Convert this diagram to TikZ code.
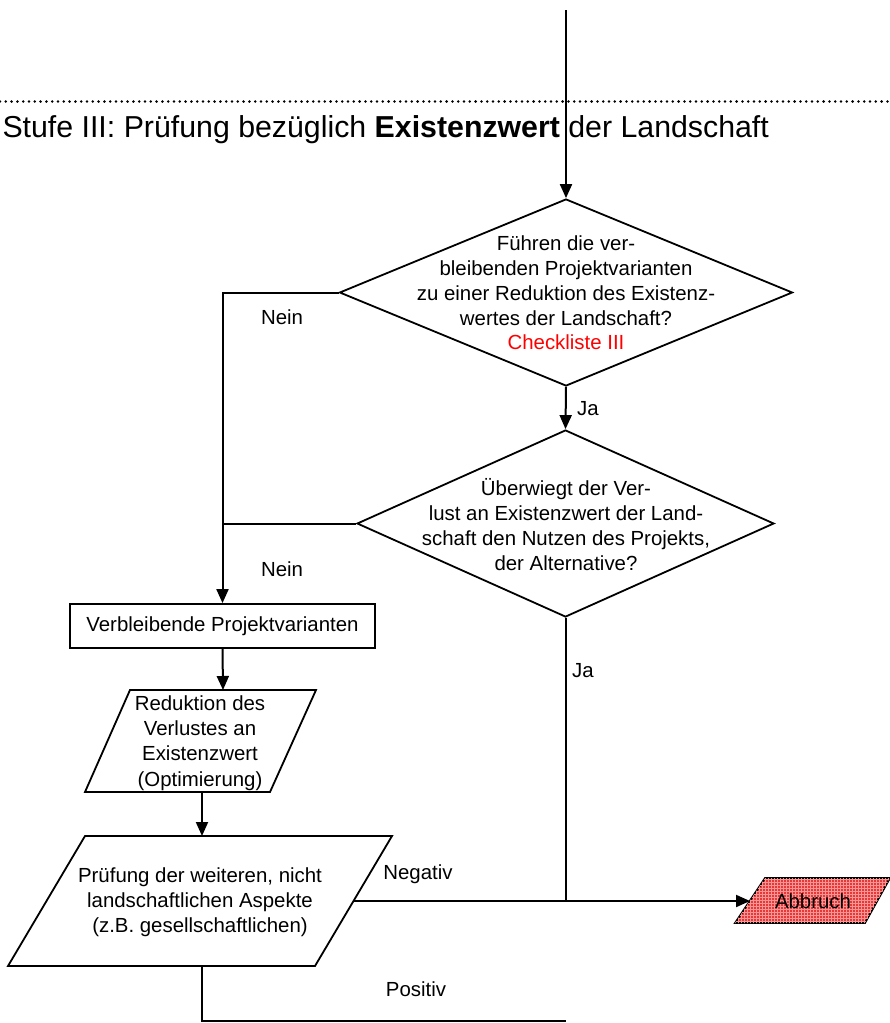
\documentclass[tikz,border=0pt]{standalone}
\usepackage{fontspec}
\setmainfont{Liberation Sans}
\usetikzlibrary{shapes.geometric,arrows.meta,patterns}
\begin{document}
\begin{tikzpicture}[x=1pt,y=-1pt,
  line width=2pt,
  arr/.style={-{Triangle[length=14pt,width=12pt]}},
  dec/.style={diamond, draw, inner sep=0pt, line width=1.8pt},
  shp/.style={draw, line width=1.8pt},
  txt/.style={align=center, font=\fontsize{20.4}{24.8}\selectfont, inner sep=0pt},
  lbl/.style={font=\fontsize{20.4}{24.8}\selectfont, inner sep=0pt, anchor=base},
  dots/.style={line width=2.8pt, line cap=round, dash pattern=on 0pt off 5.8pt},
  stop/.style={draw, line width=1.8pt, fill={rgb,255:red,232;green,55;blue,55},
    postaction={pattern=grid, pattern color={rgb,255:red,248;green,150;blue,150}}},
]
\useasboundingbox (0,0) rectangle (890,1023);

% dotted separator and title
\coordinate (sepl) at (0,101.5);
\coordinate (sepr) at (890,101.5);
\draw[dots] (sepl) -- (sepr);
\node[anchor=base west, inner sep=0pt, font=\fontsize{30.3}{36}\selectfont] (title) at (1.5,137)
  {Stufe III: Prüfung bezüglich \textbf{Existenzwert} der Landschaft};

% decisions
\node[dec, minimum width=453pt, minimum height=187pt] (d1) at (566,292.5) {};
\node[txt] (t1) at (566,293) {Führen die ver-\\bleibenden Projektvarianten\\zu einer Reduktion des Existenz-\\wertes der Landschaft?\\\textcolor{red}{Checkliste III}};
\node[dec, minimum width=417pt, minimum height=187pt] (d2) at (565.5,523.5) {};
\node[txt] (t2) at (566,524.5) {Überwiegt der Ver-\\lust an Existenzwert der Land-\\schaft den Nutzen des Projekts,\\der Alternative?};

% box
\node[shp, txt, minimum width=305pt, minimum height=44pt] (box) at (222.5,626) {Verbleibende Projektvarianten};

% parallelogram 1
\coordinate (p1a) at (130,690);
\coordinate (p1b) at (316,690);
\coordinate (p1c) at (270,792);
\coordinate (p1d) at (85,792);
\draw[shp] (p1a) -- (p1b) -- (p1c) -- (p1d) -- cycle;
\node[txt, font=\fontsize{20.4}{25.2}\selectfont] (t3) at (200,743) {Reduktion des\\Verlustes an\\Existenzwert\\(Optimierung)};
\coordinate (p1top) at (223,690);
\coordinate (p1out) at (202,792);

% parallelogram 2
\coordinate (p2a) at (85,836);
\coordinate (p2b) at (392,836);
\coordinate (p2c) at (315,966);
\coordinate (p2d) at (8,966);
\draw[shp] (p2a) -- (p2b) -- (p2c) -- (p2d) -- cycle;
\node[txt, font=\fontsize{20.4}{25}\selectfont] (t4) at (200,902.5) {Prüfung der weiteren, nicht\\landschaftlichen Aspekte\\(z.B. gesellschaftlichen)};
\coordinate (p2top) at (202,836);
\coordinate (p2right) at (353.5,901);
\coordinate (p2bot) at (202,966);
\coordinate (endb) at (566,1021);

% Abbruch
\coordinate (ab1) at (765,878);
\coordinate (ab2) at (890,878);
\coordinate (ab3) at (865,923);
\coordinate (ab4) at (735,923);
\path[stop] (ab1) -- (ab2) -- (ab3) -- (ab4) -- cycle;
\node[txt] (ab) at (813,901.5) {Abbruch};
\coordinate (abin) at (750,901);

% connectors
\coordinate (start) at (566,10);
\draw[arr] (start) -- (d1.north);
\draw[arr] (d1.west) -| (box.north);
\draw (d2.west) -- (d2.west -| box.north);
\draw[arr] (d1.south) -- (d2.north);
\draw[arr] (box.south) -- (p1top);
\draw[arr] (p1out) -- (p2top);
\draw[arr] (p2right) -- (abin);
\draw (d2.south) -- (d2.south |- p2right);
\draw (p2bot) |- (endb);

% labels
\node[lbl] (n1) at (282,324.5) {Nein};
\node[lbl] (n2) at (282,576.5) {Nein};
\node[lbl] (j1) at (588,415.5) {Ja};
\node[lbl] (j2) at (583,677.5) {Ja};
\node[lbl] (neg) at (418,879.5) {Negativ};
\node[lbl] (pos) at (416,996.5) {Positiv};
\end{tikzpicture}
\end{document}
